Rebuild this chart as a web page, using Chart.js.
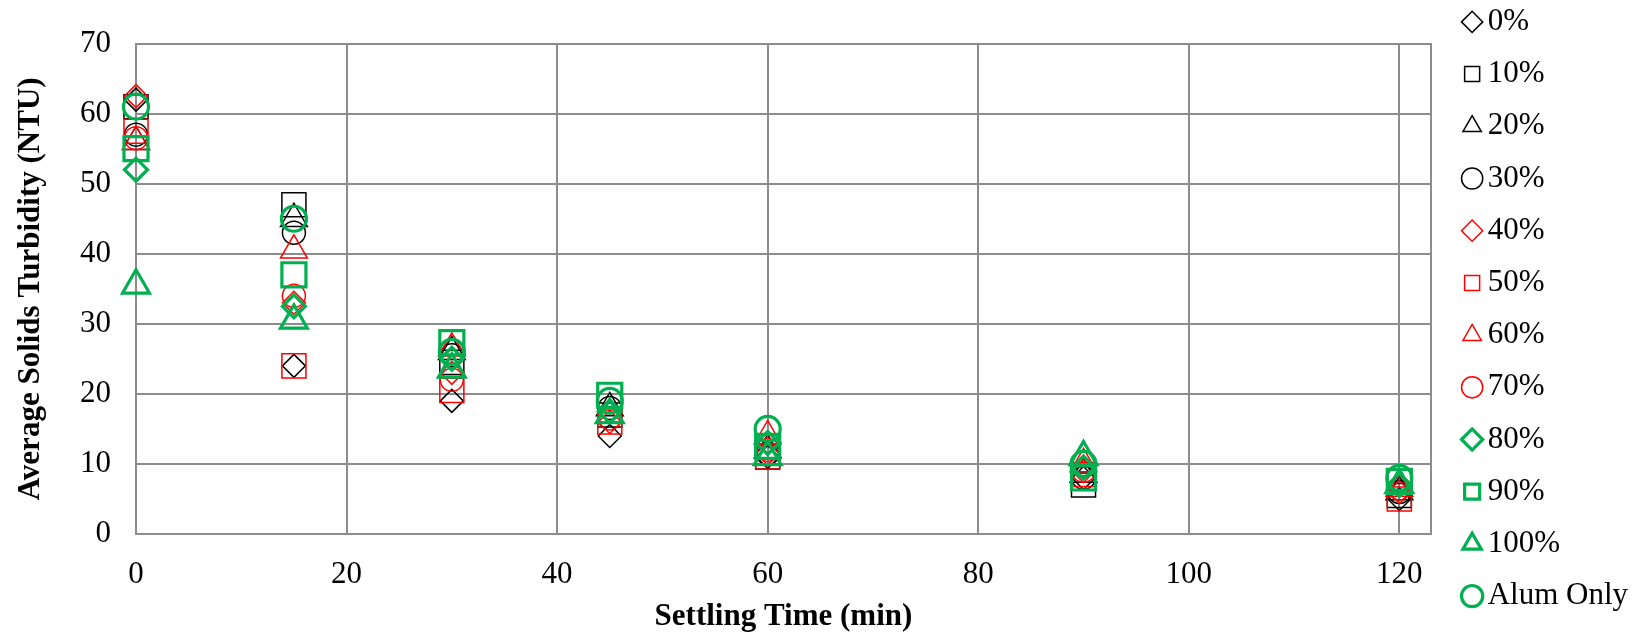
<!DOCTYPE html>
<html>
<head>
<meta charset="utf-8">
<script src="https://cdn.jsdelivr.net/npm/chart.js@4/dist/chart.umd.min.js"></script>
<style>
    html, body { margin: 0; padding: 0; background: #fff; }
    #wrap { width: 1646px; height: 636px; position: relative; }
</style>
</head>
<body>
<div id="wrap"><canvas id="grafico"></canvas></div>
<script>
// tempos de sedimentacao (min)
const tempos = [0, 15, 30, 45, 60, 90, 120];

// turbidez media (NTU) por dosagem
const dose0 = [62, 24, 19, 14, 11, 8, 5];
const dose10 = [61, 47, 24.5, 17, 11, 7, 5.5];
const dose20 = [56, 45, 26, 18, 12, 8.5, 6];
const dose30 = [57, 43, 25.5, 18, 11.5, 8, 6];
const dose40 = [62.5, 33, 23, 16, 11.5, 9, 6];
const dose50 = [57.5, 24, 20.5, 16, 11, 8.5, 5];
const dose60 = [56, 40.5, 26.5, 17, 14, 10, 6.5];
const dose70 = [56.5, 34, 22, 16.5, 12, 9, 6.5];
const dose80 = [52, 32.5, 25, 17.5, 13, 9.5, 7];
const dose90 = [55, 37, 27.3, 19.8, 12.5, 8, 7.5];
const dose100 = [35.5, 30.5, 23.5, 17, 11, 11, 7];
const alumOnly = [61, 45, 26, 19, 15, 10, 8];

const nomes = ['0%', '10%', '20%', '30%', '40%', '50%', '60%', '70%', '80%', '90%', '100%', 'Alum Only'];
const series = [dose0, dose10, dose20, dose30, dose40, dose50, dose60, dose70, dose80, dose90, dose100, alumOnly];

const xTicks = [0, 20, 40, 60, 80, 100, 120];
const yTicks = [0, 10, 20, 30, 40, 50, 60, 70];

const estilos = ['rectRot', 'rect', 'triangle', 'circle'];
const raios = { rectRot: 11.5, rect: 17, triangle: 15.5, circle: 11.5 };
const cores = ['#000000', '#ff0000', '#00b050'];

const cinza = '#8c8c8c';

Chart.defaults.font.family = "'Liberation Serif', 'Times New Roman', serif";
Chart.defaults.color = '#000';

function toPoints(valores) {
    return valores.map((v, i) => ({ x: tempos[i], y: v }));
}

const datasets = series.map((valores, i) => {
    let estilo = estilos[i % 4],
        cor = cores[Math.floor(i / 4)],
        verde = i >= 8;

    return {
        label: nomes[i],
        data: toPoints(valores),
        pointStyle: estilo,
        pointRadius: raios[estilo] + (verde && estilo === 'circle' ? 1 : 0),
        borderColor: cor,
        backgroundColor: 'rgba(0,0,0,0)',
        pointBorderWidth: verde ? 3.2 : 1.5,
        borderWidth: verde ? 3.2 : 1.5,
        showLine: false,
        clip: false,
        order: series.length - i,
    };
});

new Chart(document.getElementById('grafico'), {
    type: 'scatter',
    data: { datasets },
    options: {
        responsive: true,
        maintainAspectRatio: false,
        animation: false,
        events: [],
        layout: { padding: { top: -18, right: 8, bottom: 0, left: 0 } },
        plugins: {
            tooltip: { enabled: false },
            legend: {
                position: 'right',
                align: 'center',
                labels: {
                    usePointStyle: true,
                    boxWidth: 0.01,
                    boxHeight: 15,
                    padding: 21.2,
                    color: '#000',
                    font: { size: 31 },
                    sort: (a, b) => a.datasetIndex - b.datasetIndex,
                },
            },
        },
        scales: {
            x: {
                type: 'linear',
                position: 'bottom',
                min: 0,
                max: 123,
                afterFit: s => { s.height = 102; },
                afterBuildTicks: s => { s.ticks = xTicks.map(v => ({ value: v })); },
                ticks: { font: { size: 31 }, color: '#000', padding: 22, maxRotation: 0 },
                grid: { color: cinza, lineWidth: 2, drawTicks: false },
                border: { color: cinza, width: 2 },
                title: {
                    display: true,
                    text: 'Settling Time (min)',
                    font: { size: 31, weight: 'bold' },
                    color: '#000',
                    padding: { top: 0, bottom: 0 },
                },
            },
            x2: {
                type: 'linear',
                position: 'top',
                min: 0,
                max: 123,
                afterFit: s => { s.height = 60; },
                ticks: { display: false },
                grid: { display: false, drawTicks: false },
                border: { display: false },
            },
            y: {
                type: 'linear',
                position: 'left',
                min: 0,
                max: 70,
                afterFit: s => { s.width = 136; },
                afterBuildTicks: s => { s.ticks = yTicks.map(v => ({ value: v })); },
                ticks: { font: { size: 31 }, color: '#000', padding: 25 },
                grid: { color: cinza, lineWidth: 2, drawTicks: false },
                border: { color: cinza, width: 2 },
                title: {
                    display: true,
                    text: 'Average Solids Turbidity (NTU)',
                    font: { size: 31, weight: 'bold' },
                    color: '#000',
                    padding: { top: 12, bottom: 0 },
                },
            },
            y2: {
                type: 'linear',
                position: 'right',
                min: 0,
                max: 70,
                afterFit: s => { s.width = 20; },
                ticks: { display: false },
                grid: { display: false, drawTicks: false },
                border: { color: cinza, width: 2 },
            },
        },
    },
});
</script>
</body>
</html>
